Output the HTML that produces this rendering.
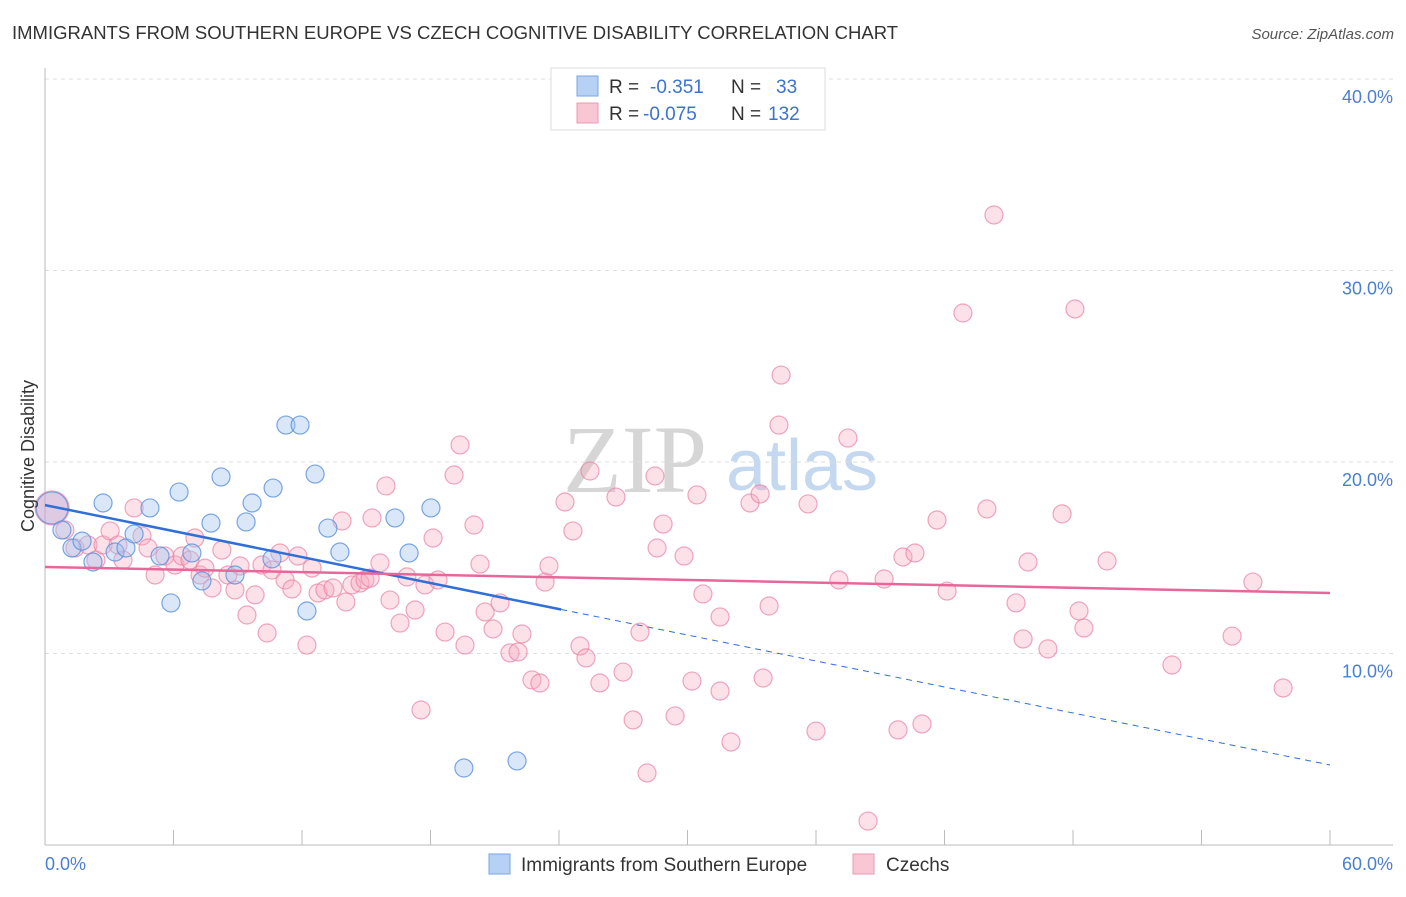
<!DOCTYPE html>
<html><head><meta charset="utf-8"><style>
body{margin:0;background:#fff;font-family:"Liberation Sans",sans-serif;}
svg text{font-family:"Liberation Sans",sans-serif;}
</style></head><body>
<svg width="1406" height="892" id="chart">
<text x="12" y="39" font-size="18.5" fill="#333">IMMIGRANTS FROM SOUTHERN EUROPE VS CZECH COGNITIVE DISABILITY CORRELATION CHART</text>
<text x="1394" y="39" font-size="15" fill="#555" font-style="italic" text-anchor="end">Source: ZipAtlas.com</text>
<g>
<text x="635" y="492" font-size="96" fill="#d6d6d6" style="font-family:'Liberation Serif',serif" text-anchor="middle">ZIP</text>
<text x="802" y="490" font-size="72" fill="#c4d8ef" text-anchor="middle">atlas</text>
</g>
<g id="grid"></g>
<g id="marks"></g>
<g id="lines"></g>
<text transform="translate(34,456) rotate(-90)" font-size="18" fill="#333" text-anchor="middle">Cognitive Disability</text>
<text x="45" y="870" font-size="18" fill="#4a7fd4">0.0%</text>
<text x="1393" y="870" font-size="18" fill="#4a7fd4" text-anchor="end">60.0%</text>
<g>
<rect x="551" y="68" width="274" height="62" fill="#fff" stroke="#ddd"/>
<rect x="577" y="76" width="21" height="20" fill="#b7d1f5" stroke="#7aa6e3"/>
<rect x="577" y="103" width="21" height="20" fill="#f9c6d4" stroke="#eb9ab3"/>
<text x="609" y="93" font-size="19" fill="#333">R =</text>
<text x="650" y="93" font-size="19" fill="#3a73d0">-0.351</text>
<text x="731" y="93" font-size="19" fill="#333">N =</text>
<text x="776" y="93" font-size="19" fill="#3a73d0">33</text>
<text x="609" y="120" font-size="19" fill="#333">R =</text>
<text x="643" y="120" font-size="19" fill="#3a73d0">-0.075</text>
<text x="731" y="120" font-size="19" fill="#333">N =</text>
<text x="768" y="120" font-size="19" fill="#3a73d0">132</text>
</g>
<g>
<rect x="489" y="854" width="21" height="20" fill="#b7d1f5" stroke="#7aa6e3"/>
<text x="521" y="871" font-size="19" fill="#333">Immigrants from Southern Europe</text>
<rect x="853" y="854" width="21" height="20" fill="#f9c6d4" stroke="#eb9ab3"/>
<text x="886" y="871" font-size="19" fill="#333">Czechs</text>
</g>
</svg>
<script>
const yTicks=[10,20,30,40];
const yTickLabels=["10.0%","20.0%","30.0%","40.0%"];
const blueX=[0.33,0.79,1.26,1.73,2.24,2.71,3.27,3.78,4.16,4.90,5.37,5.88,6.26,6.86,7.33,7.75,8.22,8.87,9.39,9.67,10.65,10.60,11.25,11.91,12.23,12.61,13.21,13.77,16.34,17.00,18.02,19.56,22.04];
const blueY=[17.6,16.45,15.51,15.87,14.78,17.86,15.30,15.51,16.24,17.60,15.09,12.64,18.43,15.25,13.79,16.81,19.22,14.10,16.87,17.86,18.64,14.94,21.93,21.93,12.22,19.37,16.55,15.30,17.08,15.25,17.60,4.02,4.39];
const pinkX=[0.33,0.93,1.40,2.01,2.38,2.71,3.04,3.41,3.64,4.16,4.53,4.81,5.14,5.60,6.07,6.40,6.77,7.00,7.24,7.47,7.80,8.26,8.54,8.87,9.11,9.43,9.81,10.13,10.37,10.60,10.97,11.21,11.53,11.81,12.23,12.47,12.75,13.07,13.45,13.87,14.05,14.33,14.71,14.94,15.18,15.27,15.64,15.92,16.11,16.58,16.90,17.28,17.56,17.74,18.12,18.35,18.68,19.10,19.38,19.61,20.03,20.31,20.55,20.92,21.25,21.71,22.09,22.27,22.74,23.11,23.35,23.53,24.28,24.65,24.98,25.26,25.45,25.91,26.66,26.99,27.46,27.78,28.11,28.48,28.58,28.86,29.42,29.84,30.21,30.44,30.72,31.52,31.52,32.03,32.92,33.39,33.53,33.81,34.27,34.37,35.63,36.00,37.07,37.49,38.43,39.18,39.83,40.06,40.62,40.95,41.65,42.12,42.86,43.98,44.31,45.34,45.67,45.90,46.83,47.49,48.09,48.28,48.51,49.59,52.62,55.43,56.40,57.81];
const pinkY=[17.6,16.45,15.51,15.67,14.88,15.67,16.40,15.67,14.88,17.60,16.14,15.51,14.10,15.09,14.62,15.09,14.88,16.03,14.10,14.46,13.42,15.40,14.10,13.32,14.57,12.01,13.06,14.62,11.07,14.36,15.25,13.84,13.37,15.09,10.44,14.46,13.16,13.32,13.42,16.92,12.69,13.58,13.68,13.84,13.94,17.08,14.73,18.75,12.79,11.59,14.00,12.27,7.05,13.58,16.03,13.84,11.12,19.32,20.89,10.44,16.71,14.67,12.17,11.28,12.64,10.03,10.08,11.02,8.62,8.46,13.73,14.57,17.91,16.40,10.39,9.77,19.53,8.46,18.17,9.03,6.53,11.12,3.76,19.27,15.51,16.76,6.74,15.09,8.56,18.28,13.11,11.91,8.04,5.38,17.86,18.33,8.72,12.48,21.93,24.54,17.81,5.95,13.84,21.25,1.25,13.89,6.01,15.04,15.25,6.32,16.97,13.26,27.78,17.55,32.90,12.64,10.76,14.78,10.24,17.29,27.99,12.22,11.33,14.83,9.40,10.91,13.73,8.20];
const blueTrend=[17.75,4.18];
const blueSolidEnd=24.1;
const pinkTrend=[14.52,13.16];
const X0=45,X1=1330,Y0=845,PY=19.15;
const sx=v=>X0+(v/60)*(X1-X0);
const sy=v=>Y0-v*PY;
const NS="http://www.w3.org/2000/svg";
function mk(tag,attrs,parent){const e=document.createElementNS(NS,tag);for(const k in attrs)e.setAttribute(k,attrs[k]);parent.appendChild(e);return e;}
const grid=document.getElementById('grid');
yTicks.forEach((t,i)=>{
 const l=mk('line',{x1:45,x2:1393,y1:sy(t),y2:sy(t),stroke:'#ddd','stroke-dasharray':'4,4'},grid);
 
 
 const tx=mk('text',{x:1393,y:sy(t)+24,'font-size':18,fill:'#4a7fd4','text-anchor':'end'},grid);
 tx.textContent=yTickLabels[i];
 
 
});
const ax=mk('line',{x1:45,x2:45,y1:68,y2:845,stroke:'#bbb'},grid);


const bx=mk('line',{x1:45,x2:1393,y1:845,y2:845,stroke:'#bbb'},grid);


for(let i=0;i<=10;i++){const t=mk('line',{x1:sx(i*6),x2:sx(i*6),y1:845,y2:830,stroke:'#bbb'},grid);
 
 }
const marks=document.getElementById('marks');
pinkX.forEach((x,i)=>{const c=mk('circle',{cx:sx(x),cy:sy(pinkY[i]),r:i===0?17:9,fill:'rgba(246,168,192,0.35)',stroke:'rgba(232,130,165,0.7)','stroke-width':1.2},marks);
 
 });
blueX.forEach((x,i)=>{const c=mk('circle',{cx:sx(x),cy:sy(blueY[i]),r:i===0?16:9,fill:i===0?'rgba(170,160,220,0.35)':'rgba(160,196,240,0.4)',stroke:'rgba(90,145,220,0.8)','stroke-width':1.2},marks);
 
 });
const lines=document.getElementById('lines');
const by=x=>blueTrend[0]+(blueTrend[1]-blueTrend[0])*x/60;
const l1=mk('line',{x1:sx(0),y1:sy(by(0)),x2:sx(blueSolidEnd),y2:sy(by(blueSolidEnd)),stroke:'#2f6fd6','stroke-width':2.5},lines);


const l2=mk('line',{x1:sx(blueSolidEnd),y1:sy(by(blueSolidEnd)),x2:sx(60),y2:sy(by(60)),stroke:'#2f6fd6','stroke-width':1,'stroke-dasharray':'6,5'},lines);


const l3=mk('line',{x1:sx(0),y1:sy(pinkTrend[0]),x2:sx(60),y2:sy(pinkTrend[1]),stroke:'#e8679a','stroke-width':2.5},lines);


</script>
</body></html>
